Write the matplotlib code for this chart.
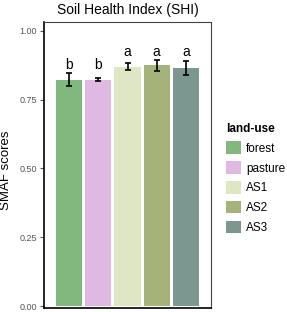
import matplotlib
matplotlib.use("Agg")
import matplotlib.pyplot as plt
from matplotlib.patches import Patch
import numpy as np

plt.rcParams['font.family'] = ['Liberation Sans', 'DejaVu Sans']

categories = ["forest", "pasture", "AS1", "AS2", "AS3"]
values = [0.822, 0.823, 0.870, 0.874, 0.864]
errors = [0.023, 0.007, 0.012, 0.021, 0.025]
letters = ["b", "b", "a", "a", "a"]
colors = ["#80b87e", "#e0b9e3", "#dfe6c4", "#a5b37a", "#7c978f"]
yticks = [0.00, 0.25, 0.50, 0.75, 1.00]

W, H = 287, 312
fig = plt.figure(figsize=(W/100, H/100), dpi=100)
ax = fig.add_axes([44/W, 4/H, 167/W, 286/H])

x = np.arange(1, len(categories) + 1)
ax.bar(x, values, width=0.9, color=colors, edgecolor='none')
ax.errorbar(x, values, yerr=errors, fmt='none', ecolor='black',
            elinewidth=1.2, capsize=2.2, capthick=1.2)

tops = {}
for l, v, e in zip(letters, values, errors):
    tops[l] = max(tops.get(l, 0), v + e)
for xi, l in zip(x, letters):
    ax.text(xi, tops[l] + 0.015, l, ha='center', va='baseline', fontsize=10)

ax.set_xlim(0.138, 5.862)
ax.set_ylim(-0.007, 1.032)
ax.set_yticks(yticks)
ax.set_yticklabels([f"{t:.2f}" for t in yticks], color='#555555', fontsize=6.5)
ax.set_xticks([])
ax.tick_params(axis='y', length=3, width=0.8, color='#555555', pad=2)
ax.set_ylabel("SMAF scores", fontsize=9.5)
ax.yaxis.set_label_coords((12 - 44) / 167, 0.48)
ax.set_title("Soil Health Index (SHI)", fontsize=10, pad=6)

for s in ['top', 'right']:
    ax.spines[s].set_color('#444444')
    ax.spines[s].set_linewidth(0.8)
for s in ['left', 'bottom']:
    ax.spines[s].set_color('black')
    ax.spines[s].set_linewidth(1.2)

handles = [Patch(facecolor=c, edgecolor='none', label=n) for c, n in zip(colors, categories)]
leg = fig.legend(handles=handles, title="land-use", loc='upper left',
                 bbox_to_anchor=(226/W, 1 - 123/H), frameon=False,
                 fontsize=8.5, title_fontsize=8.5, handlelength=1.3, handleheight=1.27,
                 labelspacing=0.55, handletextpad=0.4, borderaxespad=0, borderpad=0)
leg.get_title().set_fontweight('bold')
leg._legend_box.align = "left"

fig.savefig("out.png", dpi=100)
